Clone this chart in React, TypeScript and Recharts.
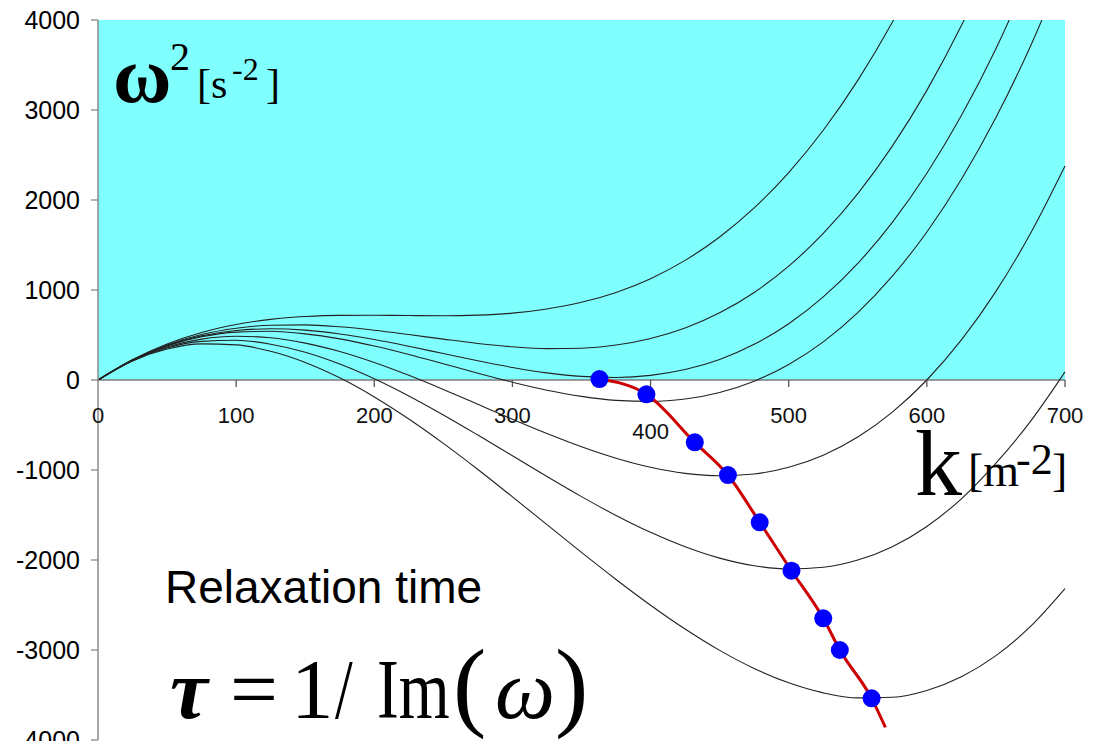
import React from "react";
import {
  ComposedChart,
  Line,
  Scatter,
  XAxis,
  YAxis,
  ReferenceArea,
  ReferenceLine,
} from "recharts";

// wave number samples k
const kValues = [
  0, 25, 50, 75, 100, 125, 150, 175, 200, 225, 250, 275, 300, 325, 350, 375,
  400, 425, 450, 475, 500, 525, 550, 575, 600, 625, 650, 675, 700,
];

// omega^2 (top to bottom)
const curve1 = [
  0, 226, 400, 528, 617, 674, 705, 718, 719, 716, 714, 721, 743, 789, 863, 973,
  1126, 1329, 1589, 1912, 2305, 2775, 3329, 3974, 4716, 5563, null, null, null,
];
const curve2 = [
  0, 224, 390, 505, 575, 609, 612, 591, 553, 505, 454, 406, 369, 349, 353, 388,
  461, 578, 747, 973, 1265, 1629, 2071, 2598, 3218, 3938, 4763, null, null,
];
const curve3 = [
  0, 222, 383, 490, 550, 569, 554, 512, 450, 375, 294, 213, 139, 79, 40, 28,
  51, 116, 228, 396, 625, 923, 1296, 1752, 2297, 2938, 3681, 4534, null,
];
const curve4 = [
  0, 221, 379, 480, 532, 541, 513, 457, 378, 284, 181, 76, -24, -113, -182,
  -226, -238, -211, -138, -13, 173, 424, 749, 1154, 1645, 2231, 2916, 3709,
  4617,
];
const curve5 = [
  0, 218, 367, 454, 486, 469, 410, 317, 195, 52, -105, -270, -436, -595, -742,
  -869, -970, -1037, -1064, -1044, -970, -836, -634, -357, 0, 445, 985, 1627,
  2377,
];
const curve6 = [
  0, 215, 356, 429, 441, 398, 309, 178, 14, -177, -388, -612, -842, -1073,
  -1296, -1505, -1693, -1853, -1979, -2064, -2100, -2081, -2001, -1852, -1627,
  -1320, -924, -460, 90,
];
const curve7 = [
  0, 212, 344, 401, 390, 319, 195, 24, -188, -433, -704, -994, -1298, -1607,
  -1916, -2216, -2502, -2767, -3004, -3205, -3365, -3476, -3532, -3525, -3449,
  -3297, -3062, -2738, -2317,
];

// minima of omega^2 (blue points) and the red locus through them
const minK = [363, 397, 432, 456, 479, 502, 525, 537, 560];
const minW = [10, -159, -693, -1056, -1581, -2119, -2648, -3000, -3537];
const redK = [363, 397, 432, 456, 479, 502, 525, 537, 560, 570];
const redW = [10, -159, -693, -1056, -1581, -2119, -2648, -3000, -3537, -3859];

const xTicks = [0, 100, 200, 300, 400, 500, 600, 700];
const yTicks = [-4000, -3000, -2000, -1000, 0, 1000, 2000, 3000, 4000];

const curves = [curve1, curve2, curve3, curve4, curve5, curve6, curve7];
const curveKeys = curves.map((_, j) => "c" + (j + 1));
const table = kValues.map((k, i) => {
  const row: Record<string, number | null> = { k };
  curves.forEach((c, j) => {
    row["c" + (j + 1)] = c[i];
  });
  return row;
});
const redData = redK.map((k, i) => ({ k, w: redW[i] }));
const pointData = minK.map((k, i) => ({ k, w: minW[i] }));
const tickData = xTicks.map((k) => ({ k, w: 0 }));

const SANS = "'Liberation Sans', Arial, sans-serif";
const SERIF = "'Liberation Serif', 'Times New Roman', serif";

const W = 1089;
const H = 741;

const XTickShape = (props: any) => {
  const { cx, cy, payload } = props;
  const v = payload.k;
  const extra = v === 400 ? 16 : 0;
  return (
    <g>
      {v !== 0 && (
        <line x1={cx} y1={cy} x2={cx} y2={cy + 7} stroke="#555" strokeWidth={1.3} />
      )}
      <text
        x={cx}
        y={cy + 35 + extra}
        textAnchor="middle"
        dominantBaseline="central"
        fontFamily={SANS}
        fontSize={22}
        fill="#111"
      >
        {v}
      </text>
    </g>
  );
};

const DotShape = (props: any) => {
  const { cx, cy } = props;
  return <circle cx={cx} cy={cy} r={9} fill="#0000ff" />;
};

export default function App() {
  return (
    <div style={{ position: "relative", width: W, height: H, marginBottom: -8 }}>
      <ComposedChart
        width={W}
        height={H}
        data={table}
        margin={{ top: 12, right: 32, bottom: 9, left: 0 }}
      >
        <XAxis type="number" dataKey="k" domain={[0, 700]} ticks={xTicks} hide />
        <YAxis
          type="number"
          domain={[-4000, 4000]}
          ticks={yTicks}
          interval={0}
          allowDataOverflow
          width={90}
          axisLine={{ stroke: "#8a8a8a", strokeWidth: 1.5 }}
          tickLine={{ stroke: "#8a8a8a", strokeWidth: 1.3 }}
          tickSize={7}
          tickMargin={11}
          tick={{ fill: "#000", fontSize: 25, fontFamily: SANS }}
        />
        <ReferenceArea
          x1={0}
          x2={700}
          y1={0}
          y2={4000}
          fill="#80ffff"
          fillOpacity={1}
          stroke="none"
        />
        <ReferenceLine y={0} stroke="#7a7a7a" strokeWidth={1.5} />
        {curveKeys.map((key) => (
          <Line
            key={key}
            type="monotone"
            dataKey={key}
            stroke="#222"
            strokeWidth={1.1}
            dot={false}
            activeDot={false}
            connectNulls={false}
            isAnimationActive={false}
          />
        ))}
        <Line
          data={redData}
          type="monotone"
          dataKey="w"
          stroke="#cc0000"
          strokeWidth={3}
          dot={false}
          activeDot={false}
          isAnimationActive={false}
        />
        <Scatter data={tickData} dataKey="w" shape={XTickShape} isAnimationActive={false} />
        <Scatter data={pointData} dataKey="w" shape={DotShape} isAnimationActive={false} />
      </ComposedChart>
      <svg
        width={W}
        height={H}
        style={{ position: "absolute", left: 0, top: 0, pointerEvents: "none" }}
      >
        <text fontFamily={SERIF} fill="#000">
          <tspan x={105} y={94} fontSize={80} fontWeight="bold">ω</tspan>
          <tspan x={162} y={62} fontSize={40}>2</tspan>
          <tspan x={189} y={90} fontSize={42}>[s</tspan>
          <tspan x={224} y={72} fontSize={32}>-2</tspan>
          <tspan x={258} y={90} fontSize={42}>]</tspan>
        </text>
        <text fontFamily={SERIF} fill="#000">
          <tspan x={907} y={487} fontSize={94}>k</tspan>
          <tspan x={960} y={478} fontSize={46}>[m</tspan>
          <tspan x={1008} y={466} fontSize={44}>-2</tspan>
          <tspan x={1044} y={478} fontSize={46}>]</tspan>
        </text>
        <text x={157} y={595} fontFamily={SANS} fontSize={46} fill="#000">
          Relaxation time
        </text>
        <text fontFamily={SERIF} fill="#000">
          <tspan x={162} y={710} fontSize={85} fontWeight="bold" fontStyle="italic">τ</tspan>
          <tspan x={222} y={710} fontSize={85}>=</tspan>
          <tspan x={283} y={710} fontSize={85}>1</tspan>
        </text>
        <text
          transform="translate(327,710) scale(0.75,1)"
          fontFamily={SERIF}
          fontSize={85}
          fill="#000"
        >
          /
        </text>
        <text
          transform="translate(369,710) scale(0.77,1)"
          fontFamily={SERIF}
          fontSize={85}
          fill="#000"
        >
          Im
        </text>
        <text fontFamily={SERIF} fill="#000">
          <tspan x={445} y={710} fontSize={100}>(</tspan>
          <tspan x={487} y={710} fontSize={85} fontStyle="italic">ω</tspan>
          <tspan x={547} y={710} fontSize={100}>)</tspan>
        </text>
      </svg>
    </div>
  );
}
